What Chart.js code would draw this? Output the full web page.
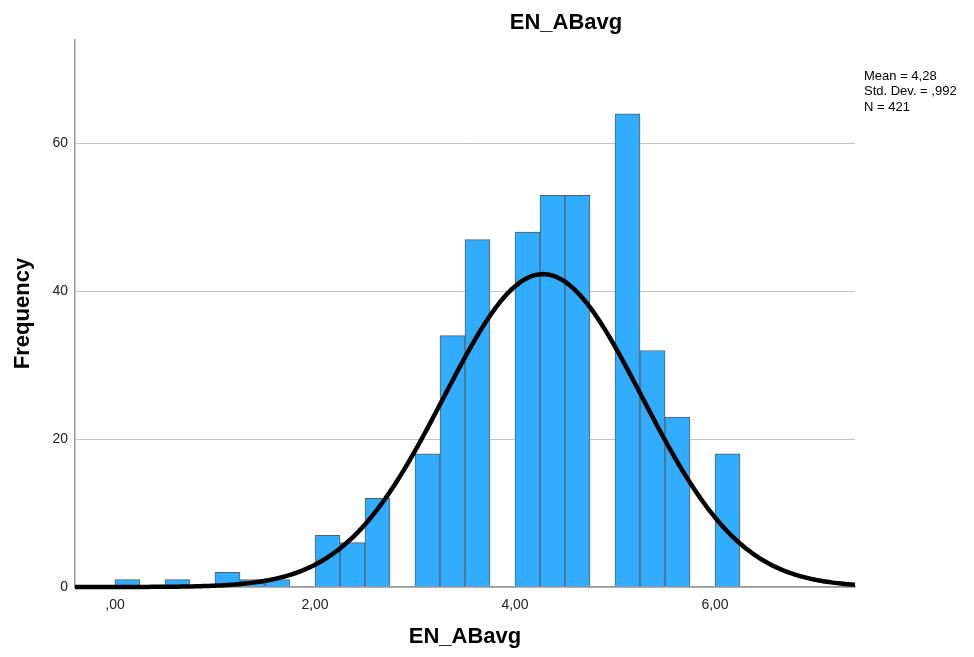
<!DOCTYPE html>
<html>
<head>
<meta charset="utf-8">
<title>EN_ABavg</title>
<script src="https://cdn.jsdelivr.net/npm/chart.js@4.4.1/dist/chart.umd.min.js"></script>
<style>
  html, body { margin: 0; padding: 0; background: #ffffff; }
  #wrap { width: 974px; height: 657px; position: relative; }
</style>
</head>
<body>
<div id="wrap"><canvas id="hist" width="974" height="657"></canvas></div>
<script>
// Histogram bins (lower edge of each 0.25-wide bin) and counts per bin
const binLower = [0.00, 0.25, 0.50, 0.75, 1.00, 1.25, 1.50, 1.75, 2.00, 2.25,
                  2.50, 2.75, 3.00, 3.25, 3.50, 3.75, 4.00, 4.25, 4.50, 4.75,
                  5.00, 5.25, 5.50, 5.75, 6.00];
const binCounts = [1, 0, 1, 0, 2, 1, 1, 0, 7, 6,
                   12, 0, 18, 34, 47, 0, 48, 53, 53, 0,
                   64, 32, 23, 0, 18];
const binWidth = 0.25;

// Summary statistics shown beside the plot
const statMean = 4.28;
const statStdDev = 0.992;
const statN = 421;
const statLines = ['Mean = 4,28', 'Std. Dev. = ,992', 'N = 421'];

// Axis ticks
const xTickValues = [0, 2, 4, 6];
const xTickLabels = [',00', '2,00', '4,00', '6,00'];
const yTickValues = [0, 20, 40, 60];
const xRange = [-0.4, 7.4];
const yRange = [0, 74];

const FONT = "'Liberation Sans', Arial, Helvetica, sans-serif";

// Bars are placed at bin centres on a linear x scale
const barPoints = binLower.map((lo, i) => ({ x: lo + binWidth / 2, y: binCounts[i] }));

// Normal curve scaled to the histogram (N * bin width * density)
const curvePoints = [];
for (let k = 0; k <= 390; k++) {
  const x = xRange[0] + k * 0.02;
  const z = (x - statMean) / statStdDev;
  const dens = Math.exp(-0.5 * z * z) / (statStdDev * Math.sqrt(2 * Math.PI));
  curvePoints.push({ x: x, y: statN * binWidth * dens });
}

// Title and the statistics box are drawn as plain canvas text
const annotations = {
  id: 'annotations',
  afterDraw(chart) {
    const ctx = chart.ctx;
    ctx.save();
    ctx.fillStyle = '#000';
    ctx.textBaseline = 'middle';
    ctx.textAlign = 'center';
    ctx.font = 'bold 22px ' + FONT;
    ctx.fillText('EN_ABavg', 566, 23);
    ctx.textAlign = 'left';
    ctx.font = '13px ' + FONT;
    statLines.forEach((t, i) => ctx.fillText(t, 864, 76 + i * 15.5));
    ctx.restore();
  }
};

new Chart(document.getElementById('hist'), {
  type: 'bar',
  data: {
    datasets: [
      {
        type: 'line',
        data: curvePoints,
        borderColor: '#000000',
        borderWidth: 4.5,
        pointRadius: 0,
        tension: 0,
        fill: false,
        clip: 6,
        order: 0
      },
      {
        type: 'bar',
        data: barPoints,
        backgroundColor: '#32adfd',
        borderColor: '#56606a',
        borderWidth: 1,
        borderSkipped: 'bottom',
        barPercentage: 1.0,
        categoryPercentage: 1.0,
        order: 1
      }
    ]
  },
  options: {
    responsive: false,
    animation: false,
    layout: { padding: { left: 0, right: 119, top: 40, bottom: 0 } },
    plugins: {
      legend: { display: false },
      title: { display: false },
      tooltip: { enabled: false }
    },
    scales: {
      x: {
        type: 'linear',
        offset: false,
        min: xRange[0],
        max: xRange[1],
        afterFit(scale) { scale.height = 70; },
        afterBuildTicks(scale) { scale.ticks = xTickValues.map(v => ({ value: v })); },
        grid: { display: false, drawTicks: false, offset: false },
        border: { display: true, color: '#9a9a9a', width: 1.5 },
        ticks: {
          padding: 10,
          color: '#222',
          font: { family: FONT, size: 14 },
          maxRotation: 0,
          callback(v) {
            const i = xTickValues.indexOf(v);
            return i >= 0 ? xTickLabels[i] : '';
          }
        },
        title: {
          display: true,
          text: 'EN_ABavg',
          color: '#000',
          font: { family: FONT, size: 22, weight: 'bold' },
          padding: { top: 0, bottom: 7 }
        }
      },
      y: {
        min: yRange[0],
        max: yRange[1],
        afterFit(scale) { scale.width = 75; },
        afterBuildTicks(scale) { scale.ticks = yTickValues.map(v => ({ value: v })); },
        grid: { color: '#c4c4c4', lineWidth: 1, drawTicks: false },
        border: { display: true, color: '#9a9a9a', width: 1.5 },
        ticks: {
          padding: 7,
          color: '#222',
          font: { family: FONT, size: 14 }
        },
        title: {
          display: true,
          text: 'Frequency',
          color: '#000',
          font: { family: FONT, size: 22, weight: 'bold' },
          padding: { top: 10, bottom: 0 }
        }
      }
    }
  },
  plugins: [annotations]
});
</script>
</body>
</html>
